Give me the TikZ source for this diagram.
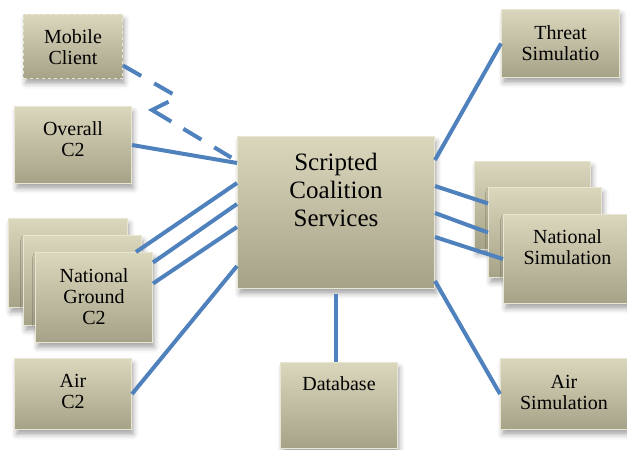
\documentclass[tikz,border=0pt]{standalone}
\usepackage{fontspec}
\setmainfont{Liberation Serif}
\usetikzlibrary{shadows.blur}
\definecolor{linkblue}{RGB}{79,129,189}
\definecolor{boxtop}{RGB}{219,215,188}
\definecolor{boxbot}{RGB}{165,162,136}
\definecolor{boxedge}{RGB}{232,229,210}

\begin{document}
\begin{tikzpicture}[
        x=1pt, y=-1pt, % координаты в пикселях, ось y вниз
        box/.style={draw=boxedge, line width=1pt, top color=boxtop, bottom color=boxbot,
            inner sep=0pt, align=center, anchor=north west, text height=50pt,
            font=\fontsize{20}{21}\selectfont,
            blur shadow={shadow xshift=2pt, shadow yshift=-5pt, shadow opacity=35, shadow blur radius=5pt}}, % Стиль блоков
        link/.style={draw=linkblue, line width=4pt}, % Стиль связей
    ]
    \useasboundingbox (0,0) rectangle (627,450);

    \node[box, minimum width=197pt, text height=90pt, text depth=62pt, font=\fontsize{25}{28}\selectfont] (core) at (237,136) {Scripted\\Coalition\\Services};

    \node[box, dashed, minimum width=99pt, text depth=14pt] (mobile) at (23,14) {Mobile\\Client};
    \node[box, minimum width=117pt, text depth=27pt] (overall) at (14,106) {Overall\\C2};
    \node[box, minimum width=119pt, text height=29pt, text depth=60pt] (ng1) at (8,218) {};
    \node[box, minimum width=118pt, text height=29pt, text depth=61pt] (ng2) at (23,235) {};
    \node[box, minimum width=117pt, text height=72pt, text depth=18pt] (ng3) at (35,252) {National\\Ground\\C2};
    \node[box, minimum width=117pt, text depth=21pt] (airc2) at (14,358) {Air\\C2};

    \node[box, minimum width=117pt, text height=28pt, text depth=58pt] (db) at (280,362) {Database};

    \node[box, minimum width=118pt, text height=51pt, text depth=17pt] (threat) at (501,9) {Threat\\Simulatio};
    \node[box, minimum width=116pt, text height=29pt, text depth=59pt] (ns1) at (474,161) {};
    \node[box, minimum width=113pt, text height=29pt, text depth=61pt] (ns2) at (488,187) {};
    \node[box, minimum width=128pt, text depth=39pt] (ns3) at (503,214) {National\\Simulation};
    \node[box, minimum width=127pt, text height=51pt, text depth=20pt] (airsim) at (500,358) {Air\\Simulation};

    % изломы пунктирной связи
    \coordinate (bendA) at (178,97);
    \coordinate (bendB) at (152,110);

    \draw[link, dash pattern=on 21pt off 15pt on 21pt off 17pt on 41pt off 14pt on 21pt off 15pt on 20pt off 10pt]
        ([yshift=-19pt]mobile.east) -- (bendA) -- (bendB) -- ([xshift=-5pt,yshift=-22pt]core.north west);
    \draw[link] (overall.east) -- ([yshift=-27pt]core.north west);
    \draw[link] ([yshift=-47pt]core.north west) -- ([xshift=-6pt,yshift=-17pt]ng2.north east);
    \draw[link] ([yshift=-68pt]core.north west) -- ([yshift=35pt]ng3.east);
    \draw[link] ([yshift=-91pt]core.north west) -- ([yshift=14pt]ng3.east);
    \draw[link] ([yshift=23pt]core.south west) -- (airc2.east);

    \draw[link] ([yshift=-5pt]core.south) -- (core.south |- db.north);

    \draw[link] ([yshift=-24pt]core.north east) -- (threat.west);
    \draw[link] ([yshift=-50pt]core.north east) -- ([yshift=29pt]ns2.west);
    \draw[link] ([yshift=-77pt]core.north east) -- (ns2.west);
    \draw[link] ([yshift=-101pt]core.north east) -- (ns3.west);
    \draw[link] ([yshift=8pt]core.south east) -- (airsim.west);

\end{tikzpicture}
\end{document}
